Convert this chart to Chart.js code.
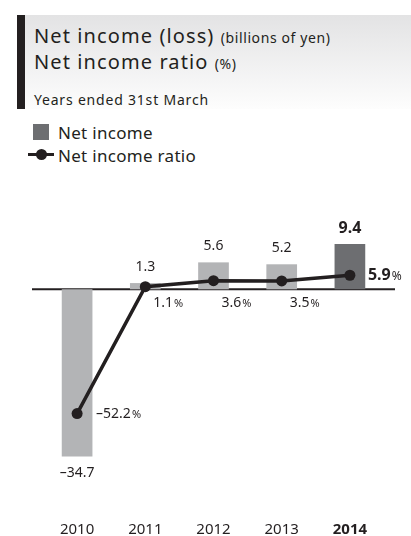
<!DOCTYPE html>
<html>
<head>
<meta charset="utf-8">
<script src="https://cdn.jsdelivr.net/npm/chart.js@4"></script>
<style>
  body { margin: 0; width: 411px; height: 536px; position: relative; overflow: hidden; background: #fff;
         font-family: "Noto Sans", sans-serif; color: #231f20; }
  .hdr { position: absolute; left: 17px; top: 15px; width: 394px; height: 94px;
         background: linear-gradient(#e3e3e4, #fdfdfd); border-left: 8px solid #231f20; box-sizing: border-box; }
  .t { position: absolute; left: 34px; white-space: nowrap; line-height: 1; }
  .big { font-size: 20px; letter-spacing: 1.1px; }
  .small { font-size: 14px; letter-spacing: 0.6px; }
  .sub { font-size: 14px; letter-spacing: 0.8px; }
  .leg { position: absolute; left: 58px; font-size: 17px; line-height: 1; letter-spacing: 0.3px; white-space: nowrap; }
  .sq { position: absolute; left: 33px; top: 124px; width: 16px; height: 16px; background: #6d6e71; }
  .ln { position: absolute; left: 28px; top: 153px; width: 26px; height: 3px; background: #231f20; }
  .dot { position: absolute; left: 36px; top: 149px; width: 11px; height: 11px; border-radius: 50%; background: #231f20; }
  #wrap { position: absolute; left: 0; top: 200px; width: 411px; height: 336px; }
</style>
</head>
<body>
<div class="hdr"></div>
<div class="t big" style="top:26px">Net income (loss) <span class="small">(billions of yen)</span></div>
<div class="t big" style="top:51.5px">Net income ratio <span class="small">(%)</span></div>
<div class="t sub" style="top:92.5px">Years ended 31st March</div>

<div class="sq"></div>
<div class="leg" style="top:124px">Net income</div>
<div class="ln"></div><div class="dot"></div>
<div class="leg" style="top:146.5px">Net income ratio</div>

<div id="wrap"><canvas id="chart"></canvas></div>

<script>
// data
const years = ['2010', '2011', '2012', '2013', '2014'];
const netIncome = [-34.7, 1.3, 5.6, 5.2, 9.4];      // billions of yen
const incomeRatio = [-52.2, 1.1, 3.6, 3.5, 5.9];   // %

const ink = '#231f20';
const light = '#b3b4b6';
const dark = '#6d6e71';
const barColors = years.map((y, i) => i === years.length - 1 ? dark : light);

function fmt(v) {
  return (v < 0 ? '\u2013' : '') + Math.abs(v).toFixed(1);
}

// zero line across the plot
const zeroLine = {
  id: 'zeroLine',
  beforeDatasetsDraw(chart) {
    const ctx = chart.ctx;
    const y = chart.scales.yBar.getPixelForValue(0);
    ctx.save();
    ctx.strokeStyle = ink;
    ctx.lineWidth = 2;
    ctx.beginPath();
    ctx.moveTo(32, y);
    ctx.lineTo(395, y);
    ctx.stroke();
    ctx.restore();
  }
};

// value labels for bars (dataset 0) and ratio points (dataset 1)
const valueLabels = {
  id: 'valueLabels',
  afterDatasetsDraw(chart) {
    const ctx = chart.ctx;
    const zeroY = chart.scales.yBar.getPixelForValue(0);
    const last = years.length - 1;
    ctx.save();
    ctx.fillStyle = ink;
    ctx.textBaseline = 'middle';

    chart.getDatasetMeta(0).data.forEach((bar, i) => {
      const v = netIncome[i];
      ctx.font = (i === last ? 'bold 16px' : '14px') + ' "Noto Sans"';
      ctx.textAlign = 'center';
      ctx.fillText(fmt(v), bar.x, v >= 0 ? bar.y - 16 : bar.y + 17);
    });

    chart.getDatasetMeta(1).data.forEach((pt, i) => {
      const v = incomeRatio[i];
      let x, y;
      if (i === last) { x = pt.x + 18; y = pt.y; }
      else if (v < 0) { x = pt.x + 19; y = pt.y; }
      else { x = pt.x + 8; y = zeroY + 14; }
      ctx.textAlign = 'left';
      ctx.font = (i === last ? 'bold 16px' : '14px') + ' "Noto Sans"';
      const txt = fmt(v);
      ctx.fillText(txt, x, y);
      const w = ctx.measureText(txt).width;
      ctx.font = (i === last ? '12px' : '11px') + ' "Noto Sans"';
      ctx.fillText('%', x + w + 1, y + 1);
    });
    ctx.restore();
  }
};

new Chart(document.getElementById('chart'), {
  data: {
    labels: years,
    datasets: [
      {
        type: 'bar',
        label: 'Net income',
        data: netIncome,
        yAxisID: 'yBar',
        backgroundColor: barColors,
        barPercentage: 0.45,
        categoryPercentage: 1,
        order: 1
      },
      {
        type: 'line',
        label: 'Net income ratio',
        data: incomeRatio,
        yAxisID: 'yRatio',
        borderColor: ink,
        borderWidth: 3.5,
        pointRadius: 5.5,
        pointBackgroundColor: ink,
        pointBorderWidth: 0,
        tension: 0,
        order: 0
      }
    ]
  },
  options: {
    responsive: true,
    maintainAspectRatio: false,
    animation: false,
    layout: { padding: { left: 43, right: 27, top: 20, bottom: 0 } },
    plugins: {
      legend: { display: false },
      tooltip: { enabled: false }
    },
    scales: {
      x: {
        grid: { display: false, drawTicks: false },
        border: { display: false },
        ticks: {
          color: ink,
          padding: 15,
          font: (c) => ({ family: 'Noto Sans', size: 15, weight: c.index === years.length - 1 ? 'bold' : 'normal' })
        },
        afterFit(scale) { scale.height = 30; }
      },
      yBar: { display: false, min: -45, max: 14.4 },
      yRatio: { display: false, min: -91, max: 29.1 }
    }
  },
  plugins: [zeroLine, valueLabels]
});
</script>
</body>
</html>
